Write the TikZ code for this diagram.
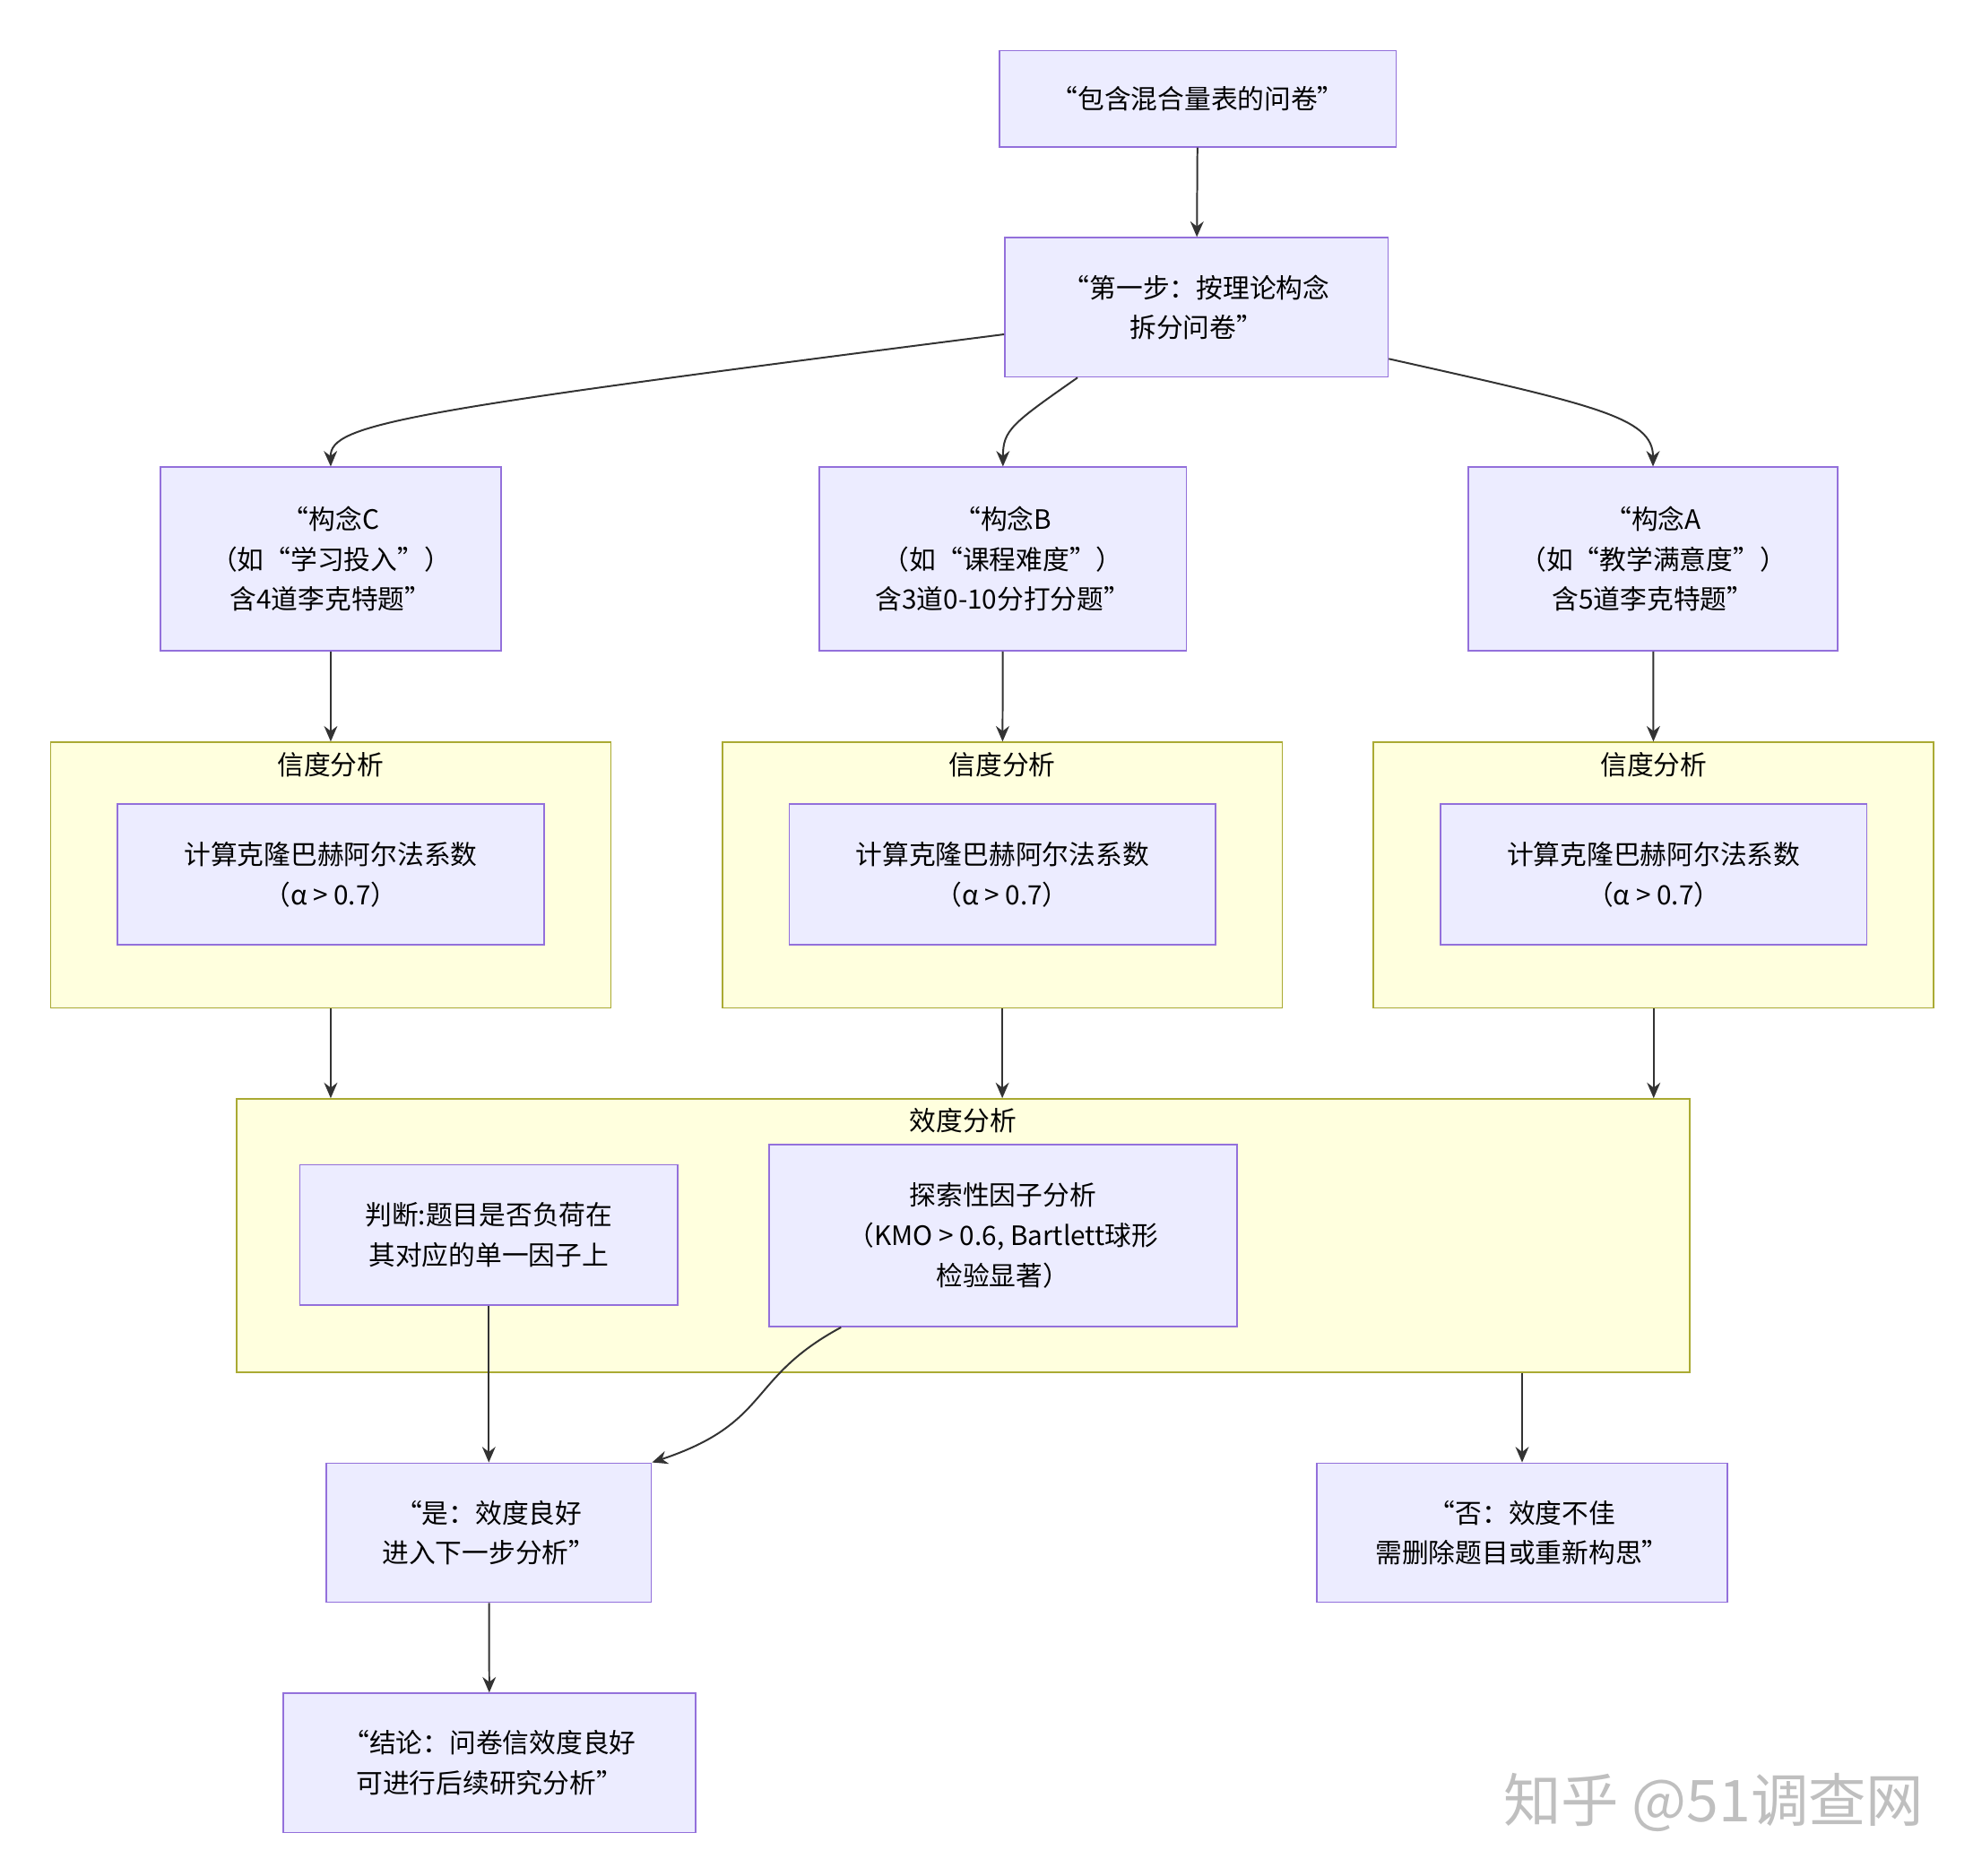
\documentclass[tikz,border=0pt]{standalone}
\usepackage{fontspec}
\setmainfont{Noto Sans CJK SC}
\usetikzlibrary{arrows.meta,calc}
\definecolor{boxfill}{HTML}{ECECFF}
\definecolor{boxline}{HTML}{9370DB}
\definecolor{grpfill}{HTML}{FFFFDE}
\definecolor{grpline}{HTML}{AAAA33}
\definecolor{edge}{HTML}{333333}
\tikzset{
  box/.style={draw=boxline, fill=boxfill, line width=0.7pt, align=center,
    font=\fontsize{12}{18}\selectfont, inner sep=2pt},
  grp/.style={draw=grpline, fill=grpfill, line width=0.7pt, inner sep=0pt},
  grplabel/.style={font=\fontsize{12}{18}\selectfont, anchor=north},
  flow/.style={draw=edge, line width=0.8pt, -{Stealth[length=7pt,width=6pt]}}
}
\begin{document}
\begin{tikzpicture}[x=0.02cm,y=-0.02cm]
\useasboundingbox (0,0) rectangle (1560,1483);

% nodes
\node[box, minimum width=6.28cm, minimum height=1.52cm] (quest) at (947,78) {“包含混合量表的问卷”};
\node[box, minimum width=6.06cm, minimum height=2.2cm] (step1) at (946,243) {“第一步：按理论构念\\拆分问卷”};
\node[box, minimum width=5.38cm, minimum height=2.9cm] (conC) at (261.5,442) {“构念C\\（如“学习投入”）\\含4道李克特题”};
\node[box, minimum width=5.8cm, minimum height=2.9cm] (conB) at (793,442) {“构念B\\（如“课程难度”）\\含3道0-10分打分题”};
\node[box, minimum width=5.84cm, minimum height=2.9cm] (conA) at (1307,442) {“构念A\\（如“教学满意度”）\\含5道李克特题”};

% reliability groups
\foreach \n/\x in {relC/261.5, relB/792.5, relA/1307.5}{
  \node[grp, minimum width=8.86cm, minimum height=4.2cm] (\n) at (\x,692) {};
  \node[grplabel] at ($(\n.north)+(0,2)$) {信度分析};
  \node[box, minimum width=6.74cm, minimum height=2.22cm] (\n-in) at (\x,691.5) {计算克隆巴赫阿尔法系数\\（α > 0.7）};
}

% validity group
\node[grp, minimum width=22.98cm, minimum height=4.32cm] (valid) at (761.5,977) {};
\node[grplabel] at ($(valid.north)+(0,2)$) {效度分析};
\node[box, minimum width=5.98cm, minimum height=2.22cm] (judge) at (386.5,976.5) {判断:题目是否负荷在\\其对应的单一因子上};
\node[box, minimum width=7.4cm, minimum height=2.88cm] (efa) at (793,977) {探索性因子分析\\（KMO > 0.6, Bartlett球形\\检验显著）};

\node[box, minimum width=5.14cm, minimum height=2.2cm] (yes) at (386.5,1212) {“是：效度良好\\进入下一步分析”};
\node[box, minimum width=6.5cm, minimum height=2.2cm] (no) at (1203.5,1212) {“否：效度不佳\\需删除题目或重新构思”};
\node[box, minimum width=6.52cm, minimum height=2.2cm] (concl) at (387,1394) {“结论：问卷信效度良好\\可进行后续研究分析”};

% edges
\draw[flow] (quest) -- (step1);
\draw[flow] (step1.188) .. controls (320,325) and (261,335) .. (conC.north);
\draw[flow] ($(step1.south)+(-94,0)$) .. controls (800,335) and (793,340) .. (conB.north);
\draw[flow] (step1.345) .. controls (1260,320) and (1307,330) .. (conA.north);
\draw[flow] (conC) -- (relC);
\draw[flow] (conB) -- (relB);
\draw[flow] (conA) -- (relA);
\draw[flow] (relC.south) -- (relC.south |- valid.north);
\draw[flow] (relB.south) -- (relB.south |- valid.north);
\draw[flow] (relA.south) -- (relA.south |- valid.north);
\draw[flow] (judge) -- (yes);
\draw[flow] ($(efa.south)+(-128,0)$) .. controls (590,1090) and (610,1125) .. (yes.north east);
\draw[flow] ($(valid.south)+(442,0)$) -- (no.north);
\draw[flow] (yes) -- (concl);

% watermark
\node[font=\fontsize{26}{30}\selectfont, text=black!25] (mark) at (1355,1425) {知乎\ @51调查网};
\end{tikzpicture}
\end{document}
